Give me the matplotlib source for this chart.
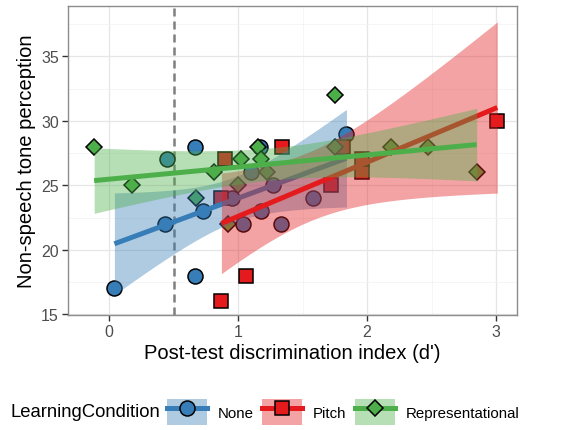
import numpy as np
import matplotlib
matplotlib.use("Agg")
import matplotlib.pyplot as plt
from matplotlib.patches import Patch
from matplotlib.lines import Line2D
from matplotlib.legend_handler import HandlerTuple

plt.rcParams['font.family'] = ['Liberation Sans', 'DejaVu Sans']

# ---- data ----
conditions = ["None", "Pitch", "Representational"]
none_x = [0.04, 0.435, 0.45, 0.667, 0.667, 0.73, 0.95, 1.04, 1.18, 1.27, 1.33, 1.10, 1.58, 1.84, 1.17]
none_y = [17, 22, 27, 28, 18, 23, 24, 22, 23, 25, 22, 26, 24, 29, 28]
pitch_x = [0.87, 1.06, 0.87, 0.90, 1.34, 1.72, 1.81, 1.96, 1.96, 3.01]
pitch_y = [16, 18, 24, 27, 28, 25, 28, 26, 27, 30]
rep_x = [-0.117, 0.175, 0.675, 0.81, 1.02, 1.15, 1.18, 1.00, 1.22, 0.925, 1.75, 1.75, 2.185, 2.47, 2.85]
rep_y = [28, 25, 24, 26, 27, 28, 27, 25, 26, 22, 32, 28, 28, 28, 26]
cutoff = 0.5
x_ticks = [0, 1, 2, 3]
y_ticks = [15, 20, 25, 30, 35]

colors = {"None": "#377EB8", "Pitch": "#E41A1C", "Representational": "#4DAF4A"}
markers = {"None": ("o", 10.8), "Pitch": ("s", 10.0), "Representational": ("D", 8.6)}
data = {"None": (none_x, none_y), "Pitch": (pitch_x, pitch_y), "Representational": (rep_x, rep_y)}


def t975(df):
    z = 1.959963985
    v = float(df)
    return (z + (z**3 + z) / (4 * v) + (5 * z**5 + 16 * z**3 + 3 * z) / (96 * v**2)
            + (3 * z**7 + 19 * z**5 + 17 * z**3 - 15 * z) / (384 * v**3)
            + (79 * z**9 + 776 * z**7 + 1482 * z**5 - 1920 * z**3 - 945 * z) / (92160 * v**4))


def lm_fit(x, y):
    x = np.asarray(x, float); y = np.asarray(y, float)
    n = len(x)
    mx = x.mean()
    sxx = ((x - mx) ** 2).sum()
    b = ((x - mx) * (y - y.mean())).sum() / sxx
    a = y.mean() - b * mx
    resid = y - (a + b * x)
    s = np.sqrt((resid ** 2).sum() / (n - 2))
    xs = np.linspace(x.min(), x.max(), 80)
    fit = a + b * xs
    se = s * np.sqrt(1.0 / n + (xs - mx) ** 2 / sxx)
    t = t975(n - 2)
    return xs, fit, fit - t * se, fit + t * se


W, H = 586, 431
fig = plt.figure(figsize=(W / 100, H / 100), dpi=100)
ax = fig.add_axes([68 / W, (H - 315.5) / H, (517 - 68) / W, (315.5 - 7) / H])

# points first
for c in conditions:
    x, y = data[c]
    m, ms = markers[c]
    ax.plot(x, y, linestyle="none", marker=m, markersize=ms, markerfacecolor=colors[c],
            markeredgecolor="black", markeredgewidth=1.1, zorder=3)

ax.axvline(cutoff, color="#7F7F7F", lw=1.8, linestyle=(0, (3.2, 2.0)), zorder=2)

# smooths
z = 4
for c in conditions:
    x, y = data[c]
    xs, fit, lo, hi = lm_fit(x, y)
    ax.fill_between(xs, lo, hi, color=colors[c], alpha=0.4, linewidth=0, zorder=z)
    ax.plot(xs, fit, color=colors[c], lw=3.6, solid_capstyle="butt", zorder=z + 0.5)
    z += 1

ax.set_xlim(-0.32, 3.163)
ax.set_ylim(14.98, 38.9)
ax.set_xticks(x_ticks)
ax.set_yticks(y_ticks)
ax.set_xticks([0.5, 1.5, 2.5], minor=True)
ax.set_yticks([17.5, 22.5, 27.5, 32.5, 37.5], minor=True)
ax.grid(True, which="major", color="#E6E6E6", lw=0.9, zorder=0)
ax.grid(True, which="minor", color="#F2F2F2", lw=0.5, zorder=0)
ax.set_axisbelow(True)
ax.tick_params(axis="both", which="major", length=4, width=1, color="#333333",
               labelsize=11.5, labelcolor="#4D4D4D", pad=2.5)
ax.tick_params(axis="both", which="minor", length=0)
for sp in ax.spines.values():
    sp.set_color("#8C8C8C")
    sp.set_linewidth(1.0)

ax.set_xlabel("Post-test discrimination index (d')", fontsize=14.5, color="black", labelpad=3)
ax.set_ylabel("Non-speech tone perception", fontsize=14.5, color="black", labelpad=4)

# legend
handles = []
for c in conditions:
    m, ms = markers[c]
    p = Patch(facecolor=colors[c], alpha=0.4, edgecolor="none")
    l = Line2D([], [], color=colors[c], lw=3.6, marker=m, markersize=ms,
               markerfacecolor=colors[c], markeredgecolor="black", markeredgewidth=1.1)
    handles.append((p, l))
fig.text(10 / W, (H - 413) / H, "LearningCondition", fontsize=13.3, va="center", ha="left")
fig.legend(handles, conditions, handler_map={tuple: HandlerTuple(ndivide=1, pad=0)},
           loc="center left", bbox_to_anchor=(167 / W, (H - 413) / H), ncol=3,
           frameon=False, fontsize=10.8, handlelength=2.65, handleheight=2.35,
           handletextpad=0.75, columnspacing=0.55, numpoints=1,
           borderpad=0, borderaxespad=0)

fig.savefig("out.png", dpi=100)
